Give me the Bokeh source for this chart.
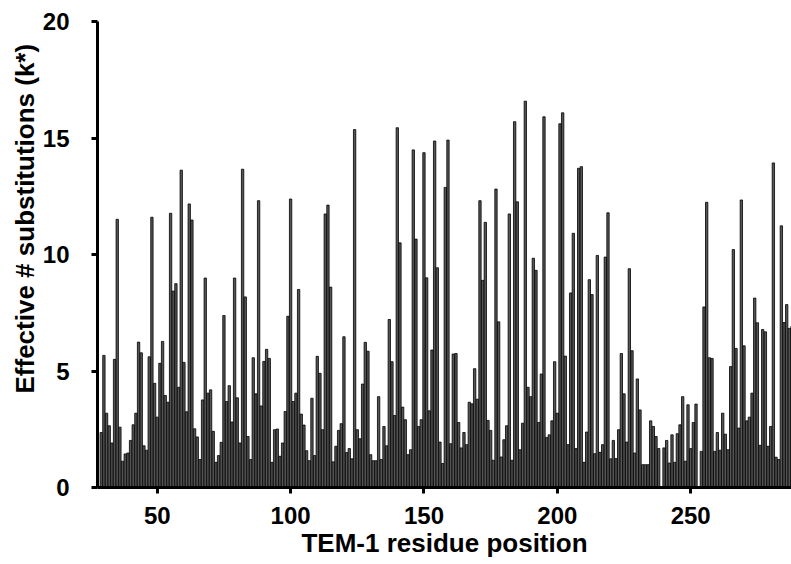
from bokeh.plotting import figure
from bokeh.models import Range1d, FixedTicker, Title
from bokeh.embed import file_html
from bokeh.resources import INLINE

# TEM-1 residue positions (Ambler numbering; 239 and 253 do not exist)
residues = [r for r in range(29, 289) if r not in (239, 253)]

# Effective number of substitutions (k*) per residue
k_star = [
    2.36, 5.67, 3.19, 2.65, 1.91, 5.50, 11.51, 2.59, 1.13, 1.44,    # 29-38
    1.48, 2.02, 2.69, 3.19, 6.24, 5.78, 1.79, 1.60, 5.61, 11.60,    # 39-48
    4.47, 3.02, 5.33, 6.27, 3.95, 3.66, 11.77, 8.43, 8.75, 4.30,    # 49-58
    13.62, 5.37, 3.25, 12.17, 11.48, 2.52, 2.17, 1.20, 3.76, 8.99,  # 59-68
    4.05, 4.19, 2.41, 1.08, 1.37, 1.94, 7.38, 3.69, 4.37, 2.81,     # 69-78
    8.99, 3.85, 1.91, 13.66, 8.18, 2.19, 1.20, 5.57, 4.02, 12.31,   # 79-88
    3.50, 5.41, 5.93, 5.54, 1.08, 2.48, 2.51, 1.34, 1.91, 3.26,     # 89-98
    7.35, 12.38, 3.69, 4.05, 8.50, 3.15, 2.68, 1.58, 1.15, 3.83,    # 99-108
    1.37, 5.63, 4.90, 2.48, 11.74, 12.12, 8.60, 1.10, 1.77, 2.45,   # 109-118
    2.74, 6.47, 1.50, 1.67, 1.23, 15.36, 2.48, 2.09, 4.44, 6.23,    # 119-128
    5.85, 1.41, 1.15, 1.15, 3.90, 1.20, 2.62, 1.79, 7.21, 5.40,     # 129-138
    3.09, 15.44, 10.50, 3.45, 2.91, 1.41, 1.62, 14.49, 10.66, 2.62, # 139-148
    2.91, 14.37, 9.00, 3.29, 5.90, 14.87, 9.43, 1.95, 1.03, 12.88,  # 149-158
    14.91, 1.88, 5.73, 5.75, 2.79, 1.70, 2.36, 1.84, 3.66, 3.59,    # 159-168
    5.10, 3.79, 12.31, 8.89, 11.38, 2.88, 2.45, 1.17, 12.81, 7.11,  # 169-178
    1.31, 2.05, 2.65, 11.74, 1.17, 15.70, 12.26, 1.62, 2.76, 16.58, # 179-188
    4.30, 3.90, 9.84, 9.32, 2.79, 4.87, 15.91, 2.15, 2.26, 2.86,    # 189-198
    5.40, 3.19, 15.61, 16.08, 5.64, 1.84, 8.35, 10.91, 1.67, 13.70, # 199-208
    13.77, 1.08, 2.38, 8.92, 8.28, 1.45, 9.96, 1.51, 1.84, 9.89,    # 209-218
    11.79, 1.23, 2.02, 1.24, 2.48, 5.75, 4.02, 1.95, 9.39, 5.87,    # 219-228
    1.48, 4.66, 3.33, 0.98, 0.98, 0.98, 2.86, 2.62, 2.19, 1.67,     # 229-238
    1.70, 2.02, 1.05, 2.26, 1.08, 2.31, 2.69, 3.90, 1.13, 3.55,     # 240-249
    1.67, 2.79, 3.58,                                               # 250-252
    1.55, 7.75, 12.24, 5.57, 5.54, 1.55, 2.36, 1.60, 3.19, 2.29,    # 254-263
    1.62, 5.19, 10.21, 5.97, 2.55, 12.34, 6.08, 2.86, 3.02, 4.05,   # 264-273
    8.13, 7.07, 1.81, 6.78, 6.68, 1.77, 2.62, 13.93, 1.30, 1.20,    # 274-283
    11.23, 7.08, 7.85, 6.83, 6.92,                                  # 284-288
]

x_ticks = [50, 100, 150, 200, 250]
y_ticks = [0, 5, 10, 15, 20]
x_title = "TEM-1 residue position"
y_title = "Effective # substitutions (k*)"

FONT = "Liberation Sans"

p = figure(width=791, height=564, output_backend="svg", toolbar_location=None,
           x_range=Range1d(27.6, 287.8), y_range=Range1d(0, 20),
           min_border_left=97, min_border_right=0, min_border_top=21,
           min_border_bottom=77, background_fill_color="white")
p.outline_line_color = None
p.xgrid.visible = False
p.ygrid.visible = False

p.vbar(x=residues, top=k_star, width=0.88, fill_color="#555555",
       line_color="black", line_width=0.8)

for ax in (p.xaxis[0], p.yaxis[0]):
    ax.axis_line_width = 3
    ax.axis_line_color = "black"
    ax.major_tick_line_width = 3
    ax.major_tick_line_color = "black"
    ax.major_tick_out = 6
    ax.major_tick_in = 0
    ax.minor_tick_out = 0
    ax.minor_tick_in = 0
    ax.major_label_text_font = FONT
    ax.major_label_text_font_style = "bold"
    ax.major_label_text_font_size = "24px"
    ax.major_label_text_color = "black"

p.xaxis.ticker = FixedTicker(ticks=x_ticks)
p.yaxis.ticker = FixedTicker(ticks=y_ticks)
p.xaxis.major_label_standoff = 13
p.yaxis.major_label_standoff = 22

p.xaxis.axis_label = x_title
p.xaxis.axis_label_text_font = FONT
p.xaxis.axis_label_text_font_style = "bold"
p.xaxis.axis_label_text_font_size = "26px"
p.xaxis.axis_label_text_color = "black"
p.xaxis.axis_label_standoff = 1

ytitle = Title(text=y_title, align="left", offset=94, standoff=0,
               text_font=FONT, text_font_style="bold", text_font_size="26px",
               text_color="black")
p.add_layout(ytitle, "left")

open("out.html", "w").write(file_html(p, INLINE))
